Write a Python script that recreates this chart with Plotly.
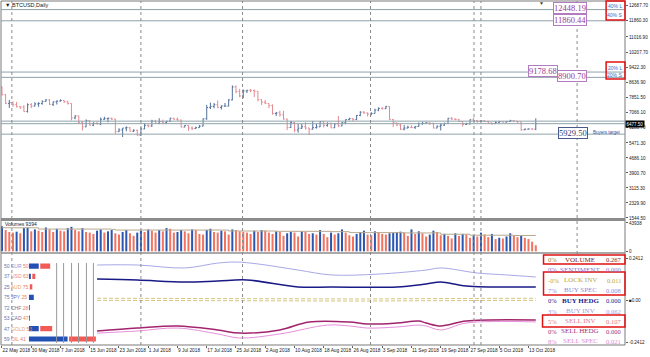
import plotly.graph_objects as go

# ---------------- data ----------------
first_open = 8400
close_may = [7990, 7530, 7590, 7470, 7360, 7350, 7110, 7470, 7400, 7510]
close_jun = [7530, 7640, 7720, 7490, 7620, 7660, 7690, 7620, 7530, 6780,
             6880, 6550, 6310, 6640, 6400, 6500, 6460, 6710, 6740, 6760,
             6720, 6060, 6150, 6250, 6270, 6080, 6130, 5880, 6200, 6390]
close_jul = [6360, 6610, 6500, 6590, 6530, 6600, 6760, 6710, 6670, 6300,
             6390, 6250, 6220, 6270, 6350, 6730, 7320, 7380, 7470, 7330,
             7400, 7400, 7720, 8400, 8170, 7930, 8190, 8230, 8210, 8170, 7730]
close_aug = [7600, 7540, 7420, 7010, 7040, 6940, 6720, 6280, 6540, 6150,
             6240, 6320, 6250, 6190, 6270, 6310, 6580, 6390, 6490, 6260,
             6470, 6360, 6530, 6690, 6740, 6700, 6910, 7080, 7040, 6980, 7010]
close_sep = [7190, 7280, 7260, 7370, 6700, 6520, 6410, 6190, 6250, 6290,
             6280, 6330, 6480, 6500, 6520, 6500, 6250, 6340, 6400, 6490,
             6760, 6720, 6700, 6590, 6440, 6470, 6680, 6640, 6600, 6630]
close_oct = [6590, 6520, 6480, 6550, 6590, 6560, 6590, 6640, 6610, 6570,
             6160, 6190, 6200, 6190, 6477.5]

high_may = [8420, 8030, 7720, 7640, 7620, 7390, 7450, 7540, 7560, 7600]
high_jun = [7600, 7700, 7760, 7760, 7640, 7700, 7750, 7700, 7680, 7540,
            6920, 6900, 6610, 6700, 6660, 6550, 6580, 6800, 6840, 6800,
            6790, 6730, 6240, 6250, 6340, 6290, 6180, 6170, 6290, 6500]
high_jul = [6440, 6680, 6680, 6760, 6690, 6630, 6790, 6790, 6800, 6690,
            6400, 6400, 6340, 6320, 6410, 6750, 7460, 7580, 7560, 7690,
            7440, 7560, 7760, 8480, 8480, 8300, 8270, 8240, 8290, 8270, 8180]
high_aug = [7760, 7720, 7550, 7490, 7090, 7160, 7150, 6730, 6620, 6560,
            6480, 6470, 6550, 6260, 6620, 6480, 6600, 6620, 6550, 6540,
            6490, 6880, 6560, 6700, 6790, 6760, 6930, 7130, 7140, 7060, 7080]
high_sep = [7260, 7330, 7340, 7410, 7390, 6720, 6520, 6470, 6400, 6370,
            6390, 6350, 6540, 6580, 6550, 6530, 6520, 6390, 6500, 6530,
            6780, 6820, 6750, 6720, 6590, 6530, 6700, 6800, 6640, 6640]
high_oct = [6650, 6620, 6530, 6600, 6620, 6600, 6600, 6680, 6650, 6620,
            6580, 6220, 6220, 6240, 6760]

low_may = [7960, 7500, 7300, 7360, 7330, 7250, 7100, 7060, 7290, 7380]
low_jun = [7360, 7470, 7630, 7450, 7400, 7480, 7640, 7560, 7480, 6650,
           6710, 6460, 6120, 6300, 6380, 6350, 6440, 6400, 6680, 6550,
           6680, 5950, 6040, 5780, 6080, 6070, 6040, 5850, 5830, 6190]
low_jul = [6280, 6310, 6470, 6450, 6450, 6460, 6580, 6690, 6640, 6280,
           6290, 6100, 6140, 6200, 6260, 6340, 6680, 7240, 7280, 7290,
           7220, 7370, 7380, 7700, 8070, 7860, 7810, 8080, 8120, 7870, 7650]
low_aug = [7460, 7500, 7290, 6950, 6880, 6850, 6690, 6140, 6250, 6030,
           6010, 6200, 6170, 5880, 6170, 6220, 6300, 6280, 6320, 6250,
           6250, 6300, 6350, 6450, 6660, 6600, 6660, 6870, 6990, 6850, 6920]
low_sep = [7000, 7130, 7210, 7240, 6680, 6300, 6350, 6150, 6130, 6230,
           6240, 6200, 6320, 6420, 6480, 6420, 6230, 6240, 6120, 6370,
           6480, 6680, 6660, 6570, 6330, 6410, 6440, 6590, 6520, 6560]
low_oct = [6560, 6490, 6430, 6470, 6520, 6540, 6540, 6570, 6590, 6530,
           6100, 6140, 6180, 6170, 6140]

vol_may = [39000, 33000, 30000, 29000, 30500, 28000, 36000, 37000, 31000, 34000]
vol_jun = [32000, 30000, 37000, 34000, 30000, 35000, 32000, 31000, 36000, 38000,
           33000, 31000, 36000, 30000, 29000, 27000, 32000, 34000, 29000, 31000,
           33000, 28000, 26000, 30000, 33000, 28000, 24000, 29000, 32000, 30000]
vol_jul = [34000, 32000, 29000, 33000, 31000, 36000, 35000, 29000, 30000, 33000,
           31000, 28000, 34000, 33000, 27000, 26000, 33000, 35000, 30000, 29000,
           32000, 31000, 26000, 34000, 33000, 31000, 30000, 29000, 27000, 32000, 30000]
vol_aug = [33000, 32000, 29000, 27000, 31000, 30000, 24000, 28000, 30000, 29000,
           23000, 31000, 30000, 27000, 28000, 26000, 33000, 27000, 22000, 29000,
           26000, 28000, 34000, 29000, 25000, 23000, 27000, 30000, 32000, 26000, 25000]
vol_sep = [31000, 29000, 27000, 26000, 28000, 29000, 30000, 30500, 29000, 24000,
           34000, 27000, 31000, 28000, 23000, 26000, 32000, 30000, 25000, 27000,
           24000, 20000, 28000, 24000, 27000, 26000, 21000, 25000, 23000, 29000]
vol_oct = [26000, 22000, 27000, 19000, 21000, 20000, 23000, 28000, 24000, 22000,
           25000, 21000, 19000, 15000, 9394]

closes = close_may + close_jun + close_jul + close_aug + close_sep + close_oct
highs = high_may + high_jun + high_jul + high_aug + high_sep + high_oct
lows = low_may + low_jun + low_jul + low_aug + low_sep + low_oct
opens = [first_open] + closes[:-1]
volumes = vol_may + vol_jun + vol_jul + vol_aug + vol_sep + vol_oct
days = list(range(len(closes)))  # day offset from 22 May 2018

vol_line_days = [0, 9, 10, 30, 31, 60, 62, 75, 90, 95, 110, 120, 128, 140, 146]
vol_line_vals = [36500, 36500, 34500, 34000, 33000, 33000, 31500, 31000, 30500,
                 29000, 28500, 26500, 25000, 24500, 24500]

lav_days = [26, 37, 50, 59, 64, 70, 81, 90, 103, 116, 120, 130, 138, 146]
lav_vals = [0.201, 0.201, 0.184, 0.212, 0.218, 0.207, 0.172, 0.144, 0.149,
            0.172, 0.184, 0.155, 0.144, 0.132]
navy_days = [26, 37, 50, 59, 67, 81, 90, 108, 116, 120, 127, 146]
navy_vals = [0.121, 0.115, 0.103, 0.109, 0.115, 0.075, 0.075, 0.075, 0.092,
             0.103, 0.080, 0.075]
lock_days = [26, 40, 55, 70, 85, 100, 115, 130, 146]
lock_vals = [0.004, 0.003, 0.004, 0.003, 0.0, 0.0, 0.002, 0.003, 0.004]
mag_days = [26, 37, 48, 59, 65, 76, 84, 95, 100, 108, 114, 116, 120, 127, 146]
mag_vals = [-0.178, -0.161, -0.149, -0.172, -0.190, -0.172, -0.126, -0.126,
            -0.138, -0.132, -0.121, -0.132, -0.149, -0.121, -0.115]
pink_days = [26, 37, 48, 59, 65, 76, 89, 95, 100, 108, 114, 116, 120, 127, 146]
pink_vals = [-0.190, -0.178, -0.161, -0.195, -0.218, -0.195, -0.144, -0.149,
             -0.161, -0.155, -0.144, -0.149, -0.172, -0.132, -0.126]

level_values = [12448.19, 11860.44, 9178.68, 8900.70, 6610.0, 6477.50, 5929.50]
vline_days = [2.7, 38, 65.8, 100.8, 129.1, 131, 157.3]
vline_full = [True, True, True, True, True, True, False]

price_ticks = [12687.70, 11860.30, 11016.90, 10207.70, 9422.30, 8636.90, 7851.50,
               7066.10, 6280.70, 5471.30, 4686.10, 3900.70, 3115.30, 2329.90, 1544.50]
date_tick_days = [0, 8, 16, 24, 32, 40, 48, 56, 64, 72, 80, 88, 96, 104, 112, 120, 128, 136, 144]
date_tick_labels = ["22 May 2018", "30 May 2018", "7 Jun 2018", "15 Jun 2018", "23 Jun 2018",
                    "1 Jul 2018", "9 Jul 2018", "17 Jul 2018", "25 Jul 2018", "2 Aug 2018",
                    "10 Aug 2018", "18 Aug 2018", "26 Aug 2018", "3 Sep 2018", "11 Sep 2018",
                    "19 Sep 2018", "27 Sep 2018", "5 Oct 2018", "13 Oct 2018"]

tbl_names = ["EUR", "USD", "AUD", "JPY", "CHF", "CAD", "GOLD", "OIL"]
tbl_left = [50, 37, 25, 75, 72, 53, 47, 59]
tbl_right = [50, 63, 75, 25, 28, 47, 53, 41]
tbl_blue = [10, 2, 0, 5, 1, 1, 10, 39]
tbl_red = [10, 3, 2, 0, 0, 0, 12, 27]
tbl_name_colors = ["#8797d8", "#e88a8a", "#eaa070", "#5a78c8", "#7070a0", "#7070a0", "#eaa070", "#e88080"]
tbl_grid = [28, 35, 43, 50, 58, 65]

leg_names = ["VOLUME", "SENTIMENT", "LOCK INV", "BUY SPEC", "BUY HEDG", "BUY INV", "SELL INV", "SELL HEDG", "SELL SPEC"]
leg_pcts = ["0%", "0%", "-0%", "7%", "0%", "3%", "5%", "0%", "8%"]
leg_vals = ["0.267", "0.000", "0.011", "0.008", "0.000", "0.062", "0.107", "0.000", "0.021"]
leg_colors = ["#7a1f1f", "#7b7bd6", "#b5a550", "#8c8ce0", "#1c1c8c", "#9a9ae6", "#e07a86", "#a0307a", "#e08ad0"]

# ---------------- geometry helpers ----------------
W, H = 650, 357
ML, MR, MT, MB = 1, 21, 1, 12
PW, PH = W - ML - MR, H - MT - MB


def px(x):
    return (x - ML) / PW


def py(y):
    return (H - MB - y) / PH


FONT = "Liberation Sans"
SERIF = "Liberation Serif"

fig = go.Figure()

# price bars
fig.add_trace(go.Ohlc(x=days, open=opens, high=highs, low=lows, close=closes,
                      increasing=dict(line=dict(color="#52709a", width=1)),
                      decreasing=dict(line=dict(color="#e58a92", width=1)),
                      tickwidth=0.35, xaxis="x", yaxis="y"))

# volumes
vol_colors = ["#2a55b0" if i == 0 or volumes[i] >= volumes[i - 1] else "#f2735f"
              for i in range(len(volumes))]
fig.add_trace(go.Bar(x=days, y=volumes, marker=dict(color=vol_colors, line=dict(width=0)),
                     width=0.55, xaxis="x", yaxis="y2"))
fig.add_trace(go.Scatter(x=vol_line_days, y=vol_line_vals, mode="lines",
                         line=dict(color="#b8a88e", width=1, shape="hv"), xaxis="x", yaxis="y2"))

# indicator lines
fig.add_trace(go.Scatter(x=lav_days, y=lav_vals, mode="lines", line=dict(color="#a8a8e8", width=1, shape="spline"),
                         xaxis="x", yaxis="y3"))
fig.add_trace(go.Scatter(x=navy_days, y=navy_vals, mode="lines", line=dict(color="#1a1a86", width=1.5, shape="spline"),
                         xaxis="x", yaxis="y3"))
for off in (0.006, -0.006):
    fig.add_trace(go.Scatter(x=lock_days, y=[v + off for v in lock_vals], mode="lines",
                             line=dict(color="#c8b860", width=0.8, dash="4px,2px"), xaxis="x", yaxis="y3"))
fig.add_trace(go.Scatter(x=pink_days, y=pink_vals, mode="lines", line=dict(color="#e690dc", width=1, shape="spline"),
                         xaxis="x", yaxis="y3"))
fig.add_trace(go.Scatter(x=mag_days, y=mag_vals, mode="lines", line=dict(color="#a2246e", width=1.5, shape="spline"),
                         xaxis="x", yaxis="y3"))

# strength table bars
rows = list(range(len(tbl_names)))
fig.add_trace(go.Bar(y=rows, x=tbl_blue, base=0, orientation="h", width=0.5,
                     marker=dict(color="#2350b4", line=dict(width=0)), xaxis="x2", yaxis="y4"))
fig.add_trace(go.Bar(y=rows, x=tbl_red, base=[b + 1.5 for b in tbl_blue], orientation="h", width=0.5,
                     marker=dict(color="#f25a55", line=dict(width=0)), xaxis="x2", yaxis="y4"))

shapes = []
shapes.append(dict(type="rect", xref="paper", yref="paper", x0=0, x1=1, y0=0, y1=1,
                   line=dict(color="#7a7a7a", width=1)))
shapes.append(dict(type="line", xref="paper", yref="paper", x0=0, x1=1, y0=py(219.5), y1=py(219.5),
                   line=dict(color="#8c8c8c", width=3)))
shapes.append(dict(type="line", xref="paper", yref="paper", x0=0, x1=1, y0=py(253), y1=py(253),
                   line=dict(color="#8c8c8c", width=1.5)))
for v in level_values:
    shapes.append(dict(type="line", xref="paper", yref="y", x0=0, x1=1, y0=v, y1=v,
                       line=dict(color="#8ea2aa", width=1)))
for d, full in zip(vline_days, vline_full):
    shapes.append(dict(type="line", xref="x", yref="paper", x0=d, x1=d, y0=(0 if full else py(254)), y1=1,
                       line=dict(color="#8a8a8a", width=1, dash="dot")))
for g in tbl_grid:
    shapes.append(dict(type="line", xref="x2", yref="paper", x0=g, x1=g, y0=py(343), y1=py(263),
                       line=dict(color="#9a9a9a", width=1)))
for (x0, y0, x1, y1) in [(610, 1, 629, 20), (610, 62, 629, 79), (547, 255, 629, 264),
                         (547, 272, 629, 295), (546, 315, 629, 327)]:
    shapes.append(dict(type="rect", xref="paper", yref="paper", x0=px(x0), x1=px(x1), y0=py(y1), y1=py(y0),
                       line=dict(color="#e01010", width=1.5)))

ann = []
ann.append(dict(xref="paper", yref="paper", x=px(3), y=py(5), xanchor="left", yanchor="middle",
                text="▼ BTCUSD,Daily", showarrow=False, font=dict(family=FONT, size=5.5, color="#202020")))
ann.append(dict(xref="paper", yref="paper", x=px(3), y=py(224.5), xanchor="left", yanchor="middle",
                text="Volumes 9394", showarrow=False, font=dict(family=FONT, size=5, color="#202020")))
ann.append(dict(xref="paper", yref="paper", x=px(545), y=py(2.5), xanchor="center", yanchor="middle",
                text="▼", showarrow=False, font=dict(family=FONT, size=5, color="#404040")))

purple = "#9a3a9c"
for (txt, d, v, sh, col, bc) in [("12448.19", 155.4, 12448.19, 2, purple, "#b47cc0"),
                                 ("11860.44", 155.4, 11860.44, 1, purple, "#b47cc0"),
                                 ("9178.68", 148.0, 9178.68, 1, purple, "#b47cc0"),
                                 ("8900.70", 155.8, 8900.70, 1, purple, "#b47cc0"),
                                 ("5929.50", 156.1, 5929.50, 1, "#2d3c78", "#4a5a8a")]:
    ann.append(dict(xref="x", yref="y", x=d, y=v, yshift=sh, xanchor="center", yanchor="middle",
                    text=txt, showarrow=False, bgcolor="white", bordercolor=bc, borderwidth=1, borderpad=0,
                    font=dict(family=SERIF, size=8.5, color=col)))
ann.append(dict(xref="paper", yref="y", x=px(627), y=5929.50, yshift=2, xanchor="right", yanchor="middle",
                text="Buyers target", showarrow=False, font=dict(family=FONT, size=4.5, color="#3050a0")))
for (txt, yy) in [("40% L", 6), ("40% S", 15.5), ("20% L", 67.5), ("20% S", 74.5)]:
    ann.append(dict(xref="paper", yref="paper", x=px(628), y=py(yy), xanchor="right", yanchor="middle",
                    text=txt, showarrow=False, font=dict(family=FONT, size=5, color="#3a6ac8")))
ann.append(dict(xref="paper", yref="y", x=1, y=closes[-1], xanchor="left", yanchor="middle",
                text="6477.50", showarrow=False, bgcolor="#000000", borderpad=0.5,
                font=dict(family=FONT, size=4.5, color="#ffffff")))

for i, n in enumerate(tbl_names):
    t = (f"<span style='color:#6474ac'>{tbl_left[i]}</span> "
         f"<span style='color:{tbl_name_colors[i]}'>{n}</span> "
         f"<span style='color:#e58060'>{tbl_right[i]}</span>")
    ann.append(dict(xref="paper", yref="y4", x=px(2), y=i, xanchor="left", yanchor="middle",
                    text=t, showarrow=False, font=dict(family=FONT, size=5)))

leg_y = [259.5, 269.5, 280, 290, 300.5, 311, 321, 331, 341]
for i, n in enumerate(leg_names):
    col = leg_colors[i]
    pc = "#9a8a40" if i == 0 else col
    ann.append(dict(xref="paper", yref="paper", x=px(549), y=py(leg_y[i]), xanchor="left", yanchor="middle",
                    text=leg_pcts[i], showarrow=False, font=dict(family=SERIF, size=6.5, color=pc)))
    ann.append(dict(xref="paper", yref="paper", x=px(584), y=py(leg_y[i]), xanchor="center", yanchor="middle",
                    text=(f"<b>{n}</b>" if n == "BUY HEDG" else n), showarrow=False,
                    font=dict(family=SERIF, size=7, color=col)))
    ann.append(dict(xref="paper", yref="paper", x=px(627), y=py(leg_y[i]), xanchor="right", yanchor="middle",
                    text=leg_vals[i], showarrow=False, font=dict(family=SERIF, size=6.5, color=col)))

axis_font = dict(family=FONT, size=4.6, color="#202020")
fig.update_layout(
    width=W, height=H, autosize=False,
    margin=dict(l=ML, r=MR, t=MT, b=MB, pad=0),
    paper_bgcolor="white", plot_bgcolor="white",
    showlegend=False, hovermode=False, barmode="overlay",
    shapes=shapes, annotations=ann,
    xaxis=dict(domain=[0, 1], range=[-0.27, 170.4], anchor="y3", tickmode="array",
               tickvals=date_tick_days, ticktext=date_tick_labels, ticklabelposition="outside right",
               tickangle=0, ticks="outside", ticklen=2, tickcolor="#606060",
               tickfont=dict(family=FONT, size=4.8, color="#202020"),
               showgrid=False, zeroline=False, showline=False, rangeslider=dict(visible=False)),
    yaxis=dict(domain=[py(218.8), 1], range=[1500, 12897], side="right", anchor="x",
               tickmode="array", tickvals=price_ticks, ticktext=[f"{v:.2f}" for v in price_ticks],
               ticks="outside", ticklen=2, tickcolor="#606060", tickfont=axis_font,
               showgrid=False, zeroline=False, showline=False),
    yaxis2=dict(domain=[py(252), py(221)], range=[-1000, 47000], side="right", anchor="x",
                tickmode="array", tickvals=[43938, 0], ticktext=["43938", "0"],
                ticks="outside", ticklen=2, tickcolor="#606060", tickfont=axis_font,
                showgrid=False, zeroline=False, showline=False),
    yaxis3=dict(domain=[0, py(254)], range=[-0.2584, 0.2642], side="right", anchor="x",
                tickmode="array", tickvals=[0.2412, 0, -0.2412], ticktext=["0.2412", "■0.00", "-0.2412"],
                ticks="outside", ticklen=2, tickcolor="#606060", tickfont=axis_font,
                showgrid=False, zeroline=False, showline=False),
    yaxis4=dict(overlaying="y3", range=[7.577, -1.154], visible=False, anchor="x2"),
    xaxis2=dict(domain=[px(29), px(97)], range=[0, 68], visible=False, anchor="y4"),
)

fig.write_html("out.html")
